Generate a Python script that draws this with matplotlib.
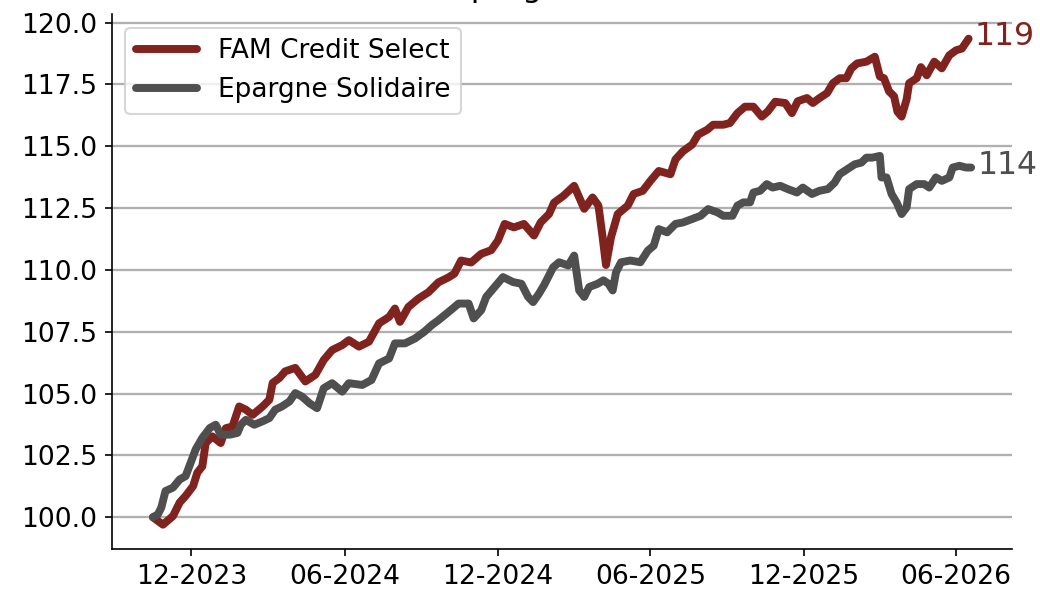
import datetime as dt

import matplotlib
matplotlib.use("Agg")
import matplotlib.dates as mdates
import matplotlib.pyplot as plt

start = dt.date(2023, 10, 16)

# FAM Credit Select: days since start, base-100 value
fam_days = [0, 12, 24, 32, 39, 48, 53, 59, 63, 71, 81, 87, 95, 103, 111, 119, 131, 139,
            143, 151, 158, 170, 182, 194, 204, 214, 226, 234, 246, 258, 270, 282, 289,
            295, 305, 317, 329, 341, 353, 360, 368, 380, 392, 404, 412, 420, 431, 443,
            455, 463, 473, 479, 490, 503, 515, 525, 532, 537, 541, 547, 555, 567, 574,
            585, 594, 604, 618, 624, 633, 644, 651, 662, 669, 681, 689, 698, 707, 717,
            727, 734, 743, 755, 763, 770, 781, 788, 796, 805, 812, 820, 828, 834, 841,
            852, 862, 868, 873, 879, 885, 889, 894, 900, 903, 912, 917, 924, 933, 942,
            951, 959, 966, 974]
fam_vals = [100.0, 99.7, 100.05, 100.6, 100.86, 101.26, 101.8, 102.06, 103.0, 103.27,
            103.0, 103.6, 103.67, 104.48, 104.35, 104.14, 104.48, 104.75, 105.43, 105.63,
            105.9, 106.04, 105.49, 105.76, 106.36, 106.76, 106.96, 107.16, 106.9, 107.1,
            107.84, 108.1, 108.44, 107.9, 108.5, 108.84, 109.1, 109.5, 109.7, 109.85,
            110.38, 110.3, 110.65, 110.8, 111.19, 111.86, 111.72, 111.86, 111.39, 111.92,
            112.26, 112.72, 112.99, 113.4, 112.47, 112.93, 112.6, 111.32, 110.2, 111.32,
            112.26, 112.6, 113.07, 113.2, 113.6, 114.0, 113.87, 114.47, 114.8, 115.07,
            115.47, 115.67, 115.87, 115.87, 115.94, 116.34, 116.6, 116.6, 116.2, 116.4,
            116.8, 116.75, 116.34, 116.82, 116.95, 116.75, 116.95, 117.15, 117.55, 117.75,
            117.75, 118.15, 118.35, 118.42, 118.62, 117.82, 117.75, 117.22, 117.02, 116.4,
            116.2, 116.9, 117.55, 117.75, 118.2, 117.87, 118.42, 118.15, 118.68, 118.88,
            118.95, 119.35]

# Epargne Solidaire
eps_days = [0, 6, 10, 15, 24, 32, 39, 45, 51, 59, 68, 75, 81, 92, 101, 105, 111, 121,
            131, 139, 146, 154, 163, 170, 178, 187, 196, 204, 214, 226, 234, 250, 261,
            270, 282, 289, 301, 313, 324, 333, 341, 353, 365, 377, 383, 392, 398, 408,
            418, 430, 440, 448, 454, 461, 467, 478, 485, 496, 503, 509, 515, 521, 531,
            538, 544, 549, 553, 559, 570, 582, 591, 598, 604, 614, 624, 633, 644, 654,
            663, 674, 681, 692, 698, 705, 713, 717, 725, 733, 740, 749, 758, 769, 776,
            787, 796, 806, 814, 820, 829, 838, 846, 852, 859, 868, 870, 876, 882, 888,
            894, 900, 903, 912, 921, 927, 935, 942, 951, 955, 963, 971, 977]
eps_vals = [100.0, 100.12, 100.39, 101.06, 101.2, 101.53, 101.66, 102.2, 102.74, 103.21,
            103.61, 103.74, 103.34, 103.34, 103.41, 103.74, 103.94, 103.74, 103.88, 104.01,
            104.35, 104.48, 104.68, 105.02, 104.88, 104.61, 104.41, 105.22, 105.42, 105.08,
            105.42, 105.35, 105.55, 106.22, 106.42, 107.03, 107.03, 107.23, 107.5, 107.77,
            107.97, 108.3, 108.64, 108.64, 108.04, 108.37, 108.91, 109.31, 109.71, 109.51,
            109.44, 108.91, 108.7, 109.04, 109.38, 110.11, 110.31, 110.18, 110.58, 109.17,
            108.91, 109.31, 109.44, 109.58, 109.44, 109.17, 109.91, 110.31, 110.38, 110.31,
            110.78, 110.98, 111.65, 111.52, 111.86, 111.92, 112.06, 112.19, 112.46, 112.33,
            112.19, 112.19, 112.6, 112.73, 112.73, 113.13, 113.2, 113.47, 113.33, 113.4,
            113.27, 113.13, 113.33, 113.07, 113.2, 113.27, 113.53, 113.87, 114.07, 114.27,
            114.34, 114.54, 114.54, 114.61, 113.74, 113.74, 113.07, 112.73, 112.26, 112.53,
            113.27, 113.47, 113.47, 113.33, 113.74, 113.6, 113.74, 114.14, 114.21, 114.14,
            114.14]

names = ["FAM Credit Select", "Epargne Solidaire"]
colors = ["#80231f", "#4f4f4f"]

fig = plt.figure(figsize=(10.4 / 1.5, 5.94 / 1.5), dpi=150)
ax = fig.add_axes([0.1077, 0.0758, 0.8654, 0.9])

for days, vals, name, color in zip([fam_days, eps_days], [fam_vals, eps_vals], names, colors):
    dates = [start + dt.timedelta(days=d) for d in days]
    ax.plot(dates, vals, color=color, lw=3.8, label=name,
            solid_joinstyle="round", solid_capstyle="round")
    ax.annotate(f"{vals[-1]:.0f}", xy=(dates[-1], vals[-1]), xytext=(3, 1),
                textcoords="offset points", va="center", ha="left",
                color=color, fontsize=15.2)

ax.xaxis.set_major_locator(mdates.MonthLocator(bymonth=[6, 12]))
ax.xaxis.set_major_formatter(mdates.DateFormatter("%m-%Y"))
ax.tick_params(labelsize=12.8)
ax.yaxis.grid(True, color="#b0b0b0", lw=1.1)
ax.set_axisbelow(True)
ax.spines["top"].set_visible(False)
ax.spines["right"].set_visible(False)
ax.legend(loc="upper left", fontsize=12.7, handlelength=2.3)
# title sits above the saved area, only its descenders show
ax.set_title("Epargne Solidaire", fontsize=15, x=0.53, pad=8.5)

fig.savefig("out.png", dpi=150)
